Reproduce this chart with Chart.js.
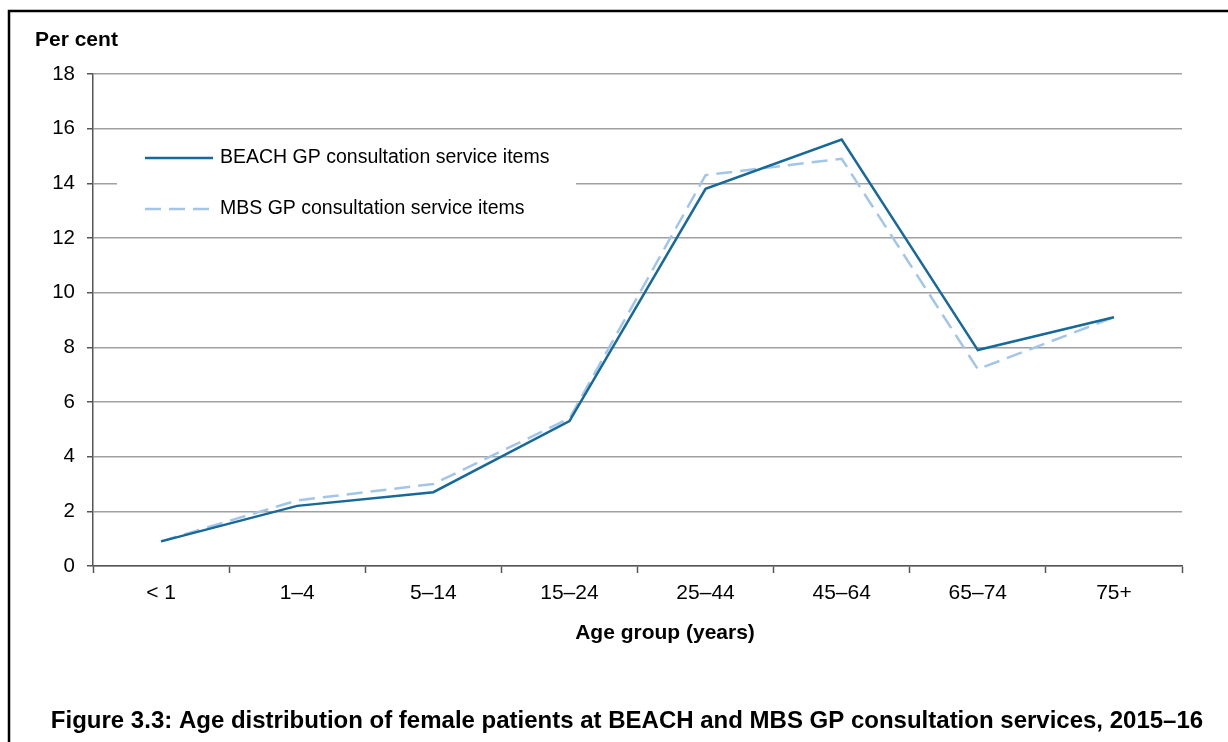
<!DOCTYPE html>
<html>
<head>
<meta charset="utf-8">
<script src="https://cdn.jsdelivr.net/npm/chart.js@4"></script>
<style>
  html, body { margin: 0; padding: 0; background: #fff; }
  canvas { display: block; }
</style>
</head>
<body>
<canvas id="myChart" width="1228" height="742"></canvas>
<script>
const ageGroups = ["< 1", "1–4", "5–14", "15–24", "25–44", "45–64", "65–74", "75+"];
const beachValues = [0.9, 2.2, 2.7, 5.3, 13.8, 15.6, 7.9, 9.1];
const mbsValues = [0.9, 2.4, 3.0, 5.4, 14.3, 14.9, 7.2, 9.1];
const yTicks = [0, 2, 4, 6, 8, 10, 12, 14, 16, 18];

const FONT = "'Liberation Sans', Arial, Helvetica, sans-serif";
Chart.defaults.font.family = FONT;
Chart.defaults.color = '#000';

// draws the frame, axis titles, caption and the legend box
const figurePlugin = {
    id: 'figure',
    beforeDatasetsDraw(chart) {
        const ctx = chart.ctx;
        ctx.save();
        // legend box hides the gridlines behind it
        ctx.fillStyle = '#fff';
        ctx.fillRect(117, 131, 459, 105);
        const rows = [158, 209];
        chart.data.datasets.forEach((ds, i) => {
            ctx.beginPath();
            ctx.strokeStyle = ds.borderColor;
            ctx.lineWidth = ds.borderWidth;
            ctx.setLineDash(ds.borderDash || []);
            ctx.moveTo(145, rows[i]);
            ctx.lineTo(213, rows[i]);
            ctx.stroke();
            ctx.setLineDash([]);
            ctx.fillStyle = '#000';
            ctx.font = '19.5px ' + FONT;
            ctx.textBaseline = 'middle';
            ctx.textAlign = 'left';
            ctx.fillText(ds.label, 220, rows[i]);
        });
        ctx.restore();
    },
    afterDraw(chart) {
        const ctx = chart.ctx;
        ctx.save();
        ctx.strokeStyle = '#000';
        ctx.lineWidth = 2.5;
        ctx.beginPath();
        ctx.moveTo(9, 760);
        ctx.lineTo(9, 11);
        ctx.lineTo(1240, 11);
        ctx.stroke();

        ctx.fillStyle = '#000';
        ctx.textBaseline = 'middle';
        ctx.font = 'bold 21px ' + FONT;
        ctx.textAlign = 'left';
        ctx.fillText('Per cent', 35, 40);

        ctx.textAlign = 'center';
        ctx.fillText('Age group (years)', 665, 633);

        ctx.font = 'bold 24px ' + FONT;
        ctx.fillText('Figure 3.3: Age distribution of female patients at BEACH and MBS GP consultation services, 2015–16', 627, 721);
        ctx.restore();
    }
};

new Chart(document.getElementById('myChart').getContext('2d'), {
    type: 'line',
    data: {
        labels: ageGroups,
        datasets: [{
            label: 'BEACH GP consultation service items',
            data: beachValues,
            borderColor: '#17699a',
            borderWidth: 2.5,
            pointRadius: 0,
            tension: 0,
            fill: false
        }, {
            label: 'MBS GP consultation service items',
            data: mbsValues,
            borderColor: '#a3c6e8',
            borderWidth: 2.5,
            borderDash: [16, 8],
            pointRadius: 0,
            tension: 0,
            fill: false
        }]
    },
    options: {
        responsive: false,
        animation: false,
        devicePixelRatio: 1,
        layout: { padding: { top: 74, right: 46, bottom: 136, left: 0 } },
        plugins: {
            legend: { display: false },
            tooltip: { enabled: false }
        },
        scales: {
            x: {
                offset: true,
                grid: {
                    offset: true,
                    drawOnChartArea: false,
                    tickLength: 7,
                    tickColor: '#555',
                    tickWidth: 1.5
                },
                border: { color: '#555', width: 1.5 },
                ticks: { font: { size: 21 }, padding: 8, maxRotation: 0 },
                afterFit(scale) { scale.height = 40; }
            },
            y: {
                min: 0,
                max: 18,
                afterBuildTicks(scale) { scale.ticks = yTicks.map(v => ({ value: v })); },
                grid: {
                    color: '#a0a0a0',
                    lineWidth: 1.5,
                    tickLength: 6,
                    tickColor: '#555'
                },
                border: { color: '#555', width: 1.5 },
                ticks: { font: { size: 20.5 }, padding: 12 },
                afterFit(scale) { scale.width = 93; }
            }
        }
    },
    plugins: [figurePlugin]
});
</script>
</body>
</html>
